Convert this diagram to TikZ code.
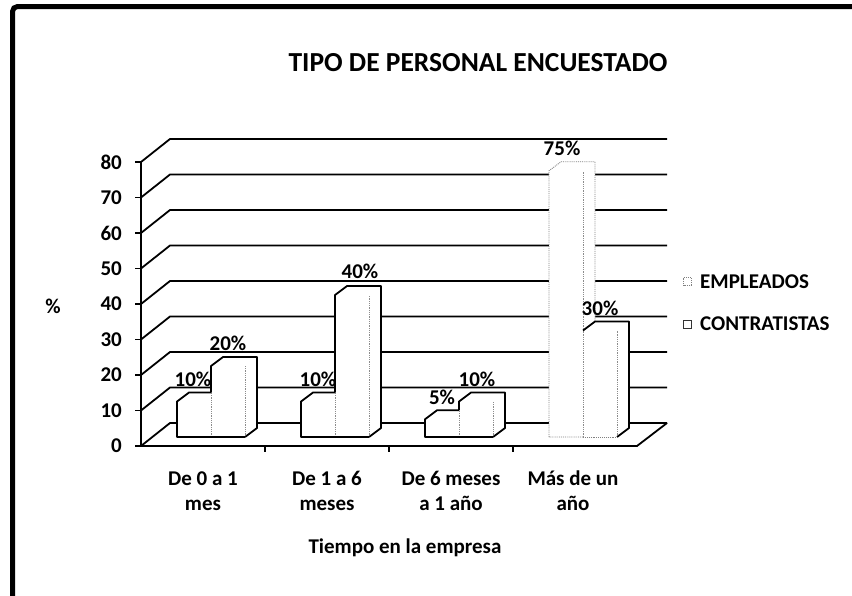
\documentclass[tikz,border=0pt]{standalone}
\usepackage{fontspec}
\setmainfont{Carlito}
\tikzset{
  grid line/.style={draw=black, line width=1.8pt},
  axis line/.style={draw=black, line width=1.8pt},
  inner edge/.style={draw=black!45, densely dotted, line width=0.8pt},
  solid edge/.style={draw=black, line width=1.8pt, line join=round},
  faint edge/.style={draw=black!50, densely dotted, line width=0.9pt},
  lbl/.style={font=\fontsize{21}{25}\selectfont\bfseries, inner sep=0pt},
  ticklbl/.style={font=\fontsize{21}{25}\selectfont\bfseries, inner sep=0pt, anchor=east},
  catlbl/.style={font=\fontsize{21}{25}\selectfont\bfseries, inner sep=0pt, align=center},
}
% #1 x of empleados front-left, #2 empleados value, #3 contratistas value, #4 empleados style
\newcommand\mypair[4]{%
  \pgfmathsetmacro\he{3.55*#2}%
  \pgfmathsetmacro\hc{3.55*#3}%
  \pgfmathsetmacro\ly{max(428-\he,437-\hc)}%
  % empleados
  \path[fill=white] (#1,437) -- (#1,437-\he) -- (#1+12,428-\he) -- (#1+46,428-\he) -- (#1+46,428) -- (#1+34,437) -- cycle;
  \draw[inner edge] (#1+34,437) -- (#1+34,437-\he);
  \draw[#4] (#1,437) -- (#1,437-\he) -- (#1+12,428-\he) -- (#1+46,428-\he) -- (#1+46,428) -- (#1+34,437) -- cycle;
  % contratistas
  \path[fill=white] (#1+34,437) -- (#1+34,437-\hc) -- (#1+46,428-\hc) -- (#1+80,428-\hc) -- (#1+80,428) -- (#1+68,437) -- cycle;
  \draw[inner edge] (#1+68,437) -- (#1+68,437-\hc);
  \draw[inner edge] (#1+34,437) -- (#1+34,437-\hc);
  \draw[#4] (#1+34,437) -- (#1+68,437);
  \draw[solid edge] (#1+68,437) -- (#1+80,428) -- (#1+80,428-\hc) -- (#1+46,428-\hc) -- (#1+34,437-\hc) -- (#1+34,\ly);
}
\begin{document}
\begin{tikzpicture}[x=1pt,y=-1pt]
\useasboundingbox (0,0) rectangle (852,595);
\fill[white] (0,0) rectangle (852,595);
% frame
\draw[line width=5pt, rounded corners=5pt] (12.5,600) -- (12.5,6.5) -- (860,6.5);
% title
\node[font=\fontsize{27.5}{32}\selectfont\bfseries, inner sep=0pt] (title) at (478,63) {TIPO DE PERSONAL ENCUESTADO};
% floor
\fill[white] (141,446) -- (637,446) -- (667,423) -- (170,423) -- cycle;
\draw[grid line] (141,446) -- (170,423) -- (667,423);
% grid lines
\foreach \v in {10,20,...,80}{
  \draw[grid line] (141,446-3.55*\v) -- (170,423-3.55*\v) -- (667,423-3.55*\v);
}
% axes
\draw[axis line] (141,446) -- (141,162);
\draw[axis line] (141,446) -- (637,446) -- (667,423);
\foreach \v in {0,10,...,80}{
  \draw[line width=1.5pt] (135,446-3.55*\v) -- (141,446-3.55*\v);
  \node[ticklbl] (t\v) at (122,446-3.55*\v) {\v};
}
\foreach \x in {265,389,513}{
  \draw[line width=1.2pt] (\x,446) -- (\x,452);
}
% bars
\mypair{177}{10}{20}{solid edge}
\mypair{301}{10}{40}{solid edge}
\mypair{425}{5}{10}{solid edge}
\mypair{549}{75}{30}{faint edge}
% data labels
\node[lbl] (l1e) at (193,379) {10\%};
\node[lbl] (l1c) at (228,343) {20\%};
\node[lbl] (l2e) at (318,379) {10\%};
\node[lbl] (l2c) at (360,271) {40\%};
\node[lbl] (l3e) at (442,397) {5\%};
\node[lbl] (l3c) at (477,379) {10\%};
\node[lbl] (l4e) at (562,148) {75\%};
\node[lbl] (l4c) at (600,308) {30\%};
% axis titles
\node[lbl] (pct) at (53,306) {\%};
\node[catlbl] (c1) at (203,491) {De 0 a 1\\mes};
\node[catlbl] (c2) at (327,491) {De 1 a 6\\meses};
\node[catlbl] (c3) at (451,491) {De 6 meses\\a 1 año};
\node[catlbl] (c4) at (573,491) {Más de un\\año};
\node[lbl] (xt) at (405,548) {Tiempo en la empresa};
% legend
\draw[faint edge, fill=white] (683.5,277.5) rectangle (691.5,285.5);
\node[lbl, anchor=west] (le) at (700,282) {EMPLEADOS};
\draw[draw=black!80, line width=1.2pt, fill=white] (683.5,320.5) rectangle (691.5,328.5);
\node[lbl, anchor=west] (lc) at (700,324) {CONTRATISTAS};
\end{tikzpicture}
\end{document}
